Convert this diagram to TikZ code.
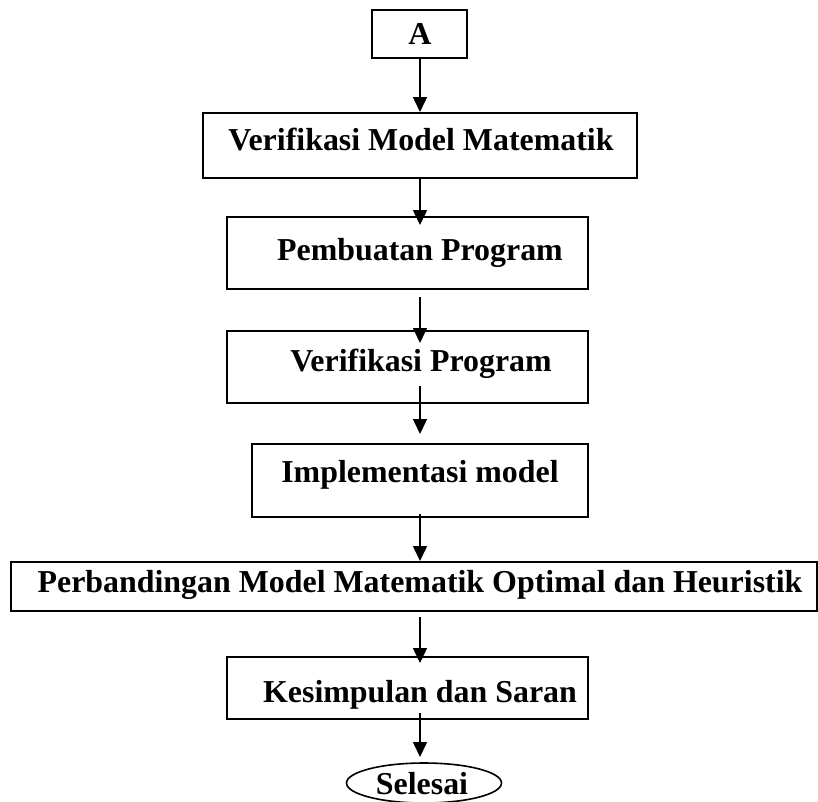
\documentclass[tikz,border=0pt]{standalone}
\usepackage{fontspec}
\setmainfont{Liberation Serif}
\usetikzlibrary{arrows.meta,shapes.geometric}

\begin{document}
\begin{tikzpicture}
[x=1pt,y=-1pt,
 stepbox/.style={rectangle,draw=black,line width=1.6pt,inner sep=0pt,outer sep=0pt},
 endbox/.style={ellipse,draw=black,line width=1.6pt,inner sep=0pt,outer sep=0pt},
 lbl/.style={draw=none,inner sep=0pt,anchor=base,font=\fontsize{31.9}{36}\selectfont\bfseries},
 arr/.style={line width=1.5pt,-{Triangle[length=15pt,width=14pt]}}]
\useasboundingbox (0,0) rectangle (818,801);

\node[stepbox,minimum width=95pt,minimum height=48pt]  (a)    at (419.5,34)  {};
\node[stepbox,minimum width=434pt,minimum height=65pt] (vmm)  at (420,145.5) {};
\node[stepbox,minimum width=361pt,minimum height=72pt] (pemb) at (407.5,253) {};
\node[stepbox,minimum width=361pt,minimum height=72pt] (vp)   at (407.5,367) {};
\node[stepbox,minimum width=336pt,minimum height=73pt] (impl) at (420,480.5) {};
\node[stepbox,minimum width=806pt,minimum height=49pt] (perb) at (414,586.5) {};
\node[stepbox,minimum width=361pt,minimum height=62pt] (kes)  at (407.5,688) {};
\node[endbox,minimum width=155pt,minimum height=40pt]  (sel)  at (424,783)   {};

\node[lbl] (ta)    at (420,44)  {A};
\node[lbl] (tvmm)  at (421,150) {Verifikasi Model Matematik};
\node[lbl] (tpemb) at (420,260) {Pembuatan Program};
\node[lbl] (tvp)   at (421,371) {Verifikasi Program};
\node[lbl] (timpl) at (420,482) {Implementasi model};
\node[lbl] (tperb) at (420,592) {Perbandingan Model Matematik Optimal dan Heuristik};
\node[lbl] (tkes)  at (420,702) {Kesimpulan dan Saran};
\node[lbl] (tsel)  at (422,794) {Selesai};

\coordinate (ax) at (420,0);
\draw[arr,shorten >=1pt] (a.south -| ax) -- (vmm.north -| ax);
\draw[arr,shorten >=-8pt] (vmm.south -| ax) -- (pemb.north -| ax);
\draw[arr,shorten <=8pt,shorten >=-12pt] (pemb.south -| ax) -- (vp.north -| ax);
\draw[arr,shorten <=-17pt,shorten >=10pt] (vp.south -| ax) -- (impl.north -| ax);
\draw[arr,shorten <=-3pt,shorten >=1pt] (impl.south -| ax) -- (perb.north -| ax);
\draw[arr,shorten <=6pt,shorten >=-6pt] (perb.south -| ax) -- (kes.north -| ax);
\draw[arr,shorten <=-6pt,shorten >=6pt] (kes.south -| ax) -- (sel.north -| ax);
\end{tikzpicture}
\end{document}
